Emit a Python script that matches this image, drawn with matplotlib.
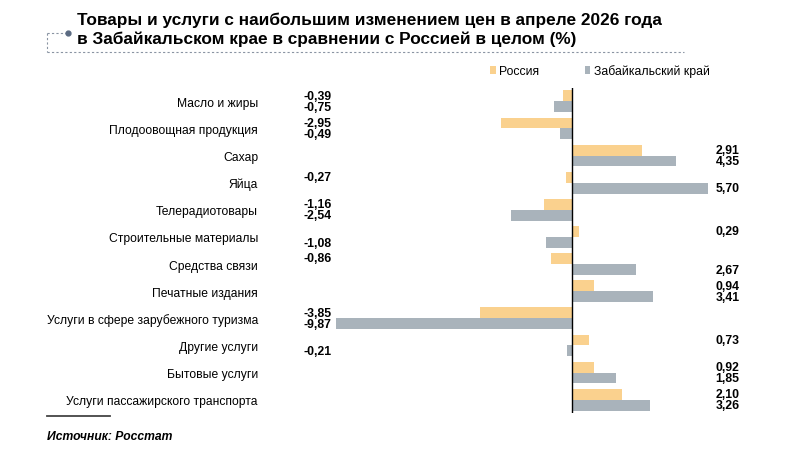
import numpy as np
import matplotlib
matplotlib.use('Agg')
import matplotlib.pyplot as plt
from matplotlib.lines import Line2D

plt.rcParams['font.family'] = ['Liberation Sans', 'DejaVu Sans']

# Data
categories = ["Масло и жиры", "Плодоовощная продукция", "Сахар", "Яйца",
              "Телерадиотовары", "Строительные материалы", "Средства связи",
              "Печатные издания", "Услуги в сфере зарубежного туризма",
              "Другие услуги", "Бытовые услуги", "Услуги пассажирского транспорта"]
russia = [-0.39, -2.95, 2.91, -0.27, -1.16, 0.29, -0.86, 0.94, -3.85, 0.73, 0.92, 2.10]
zabaikalsky = [-0.75, -0.49, 4.35, 5.70, -2.54, -1.08, 2.67, 3.41, -9.87, -0.21, 1.85, 3.26]
series_names = ["Россия", "Забайкальский край"]

ORANGE = '#FAD18E'
GREY = '#A9B3BB'

W, H = 792, 452
fig = plt.figure(figsize=(W / 100, H / 100), dpi=100)

# axes placed in pixel terms: zero at x=572, ~23.9 px per unit
ax_left, ax_right, ax_top, ax_bottom = 300, 760, 88.7, 414.3
ax = fig.add_axes([ax_left / W, 1 - ax_bottom / H,
                   (ax_right - ax_left) / W, (ax_bottom - ax_top) / H])
ppu = 23.9
ax.set_xlim((ax_left - 572) / ppu, (ax_right - 572) / ppu)
ax.set_ylim(len(categories) - 0.5, -0.5)

y = np.arange(len(categories))
h = 0.4
b1 = ax.barh(y - h / 2, russia, height=h, color=ORANGE, label=series_names[0])
b2 = ax.barh(y + h / 2, zabaikalsky, height=h, color=GREY, label=series_names[1])
ax.axvline(0, color='black', lw=1)

# value labels sit in two fixed columns
neg_x = (303 - 572) / ppu
pos_x = (715.5 - 572) / ppu
for offs, vals in ((-h / 2, russia), (h / 2, zabaikalsky)):
    for yi, v in zip(y, vals):
        ax.text(neg_x if v < 0 else pos_x, yi + offs * 1.05, f"{v:.2f}".replace('.', ','),
                ha='left', va='center', fontsize=8.8, fontweight='bold')

ax.set_yticks(y)
ax.set_yticklabels(categories, fontsize=8.7)
ax.tick_params(axis='y', length=0, pad=42 * 0.72)
ax.set_xticks([])
for s in ax.spines.values():
    s.set_visible(False)

ax.legend(handles=[b1, b2], ncol=2, frameon=False, fontsize=8.8,
          loc='center left', bbox_to_anchor=(490 / W, 1 - 72 / H),
          bbox_transform=fig.transFigure, borderpad=0, borderaxespad=0,
          handlelength=0.45, handleheight=0.55, handletextpad=0.3,
          columnspacing=3.7)

# title
fig.text(77 / W, 1 - 25 / H, "Товары и услуги с наибольшим изменением цен в апреле 2026 года",
         fontsize=12.4, fontweight='bold', va='baseline')
fig.text(77 / W, 1 - 44 / H, "в Забайкальском крае в сравнении с Россией в целом (%)",
         fontsize=12.4, fontweight='bold', va='baseline')

# dotted frame decoration
dot_col = '#8A94A3'
def px_line(xs, ys, **kw):
    fig.add_artist(Line2D([x / W for x in xs], [1 - v / H for v in ys],
                          transform=fig.transFigure, **kw))

px_line([47, 684], [53, 53], color=dot_col, lw=0.8, ls=(0, (2, 2)))
px_line([47, 47], [34, 53], color=dot_col, lw=0.8, ls=(0, (2, 2)))
px_line([47, 66], [34, 34], color=dot_col, lw=0.8, ls=(0, (2, 2)))
px_line([68], [34], color='#5B6B82', marker='o', ms=3.5, lw=0)

# footer
px_line([47, 110], [417, 417], color='#444444', lw=1.3)
fig.text(47 / W, 1 - 437 / H, "Источник: Росстат", fontsize=8.7,
         fontweight='bold', fontstyle='italic', va='center')

fig.savefig('out.png', dpi=100)
